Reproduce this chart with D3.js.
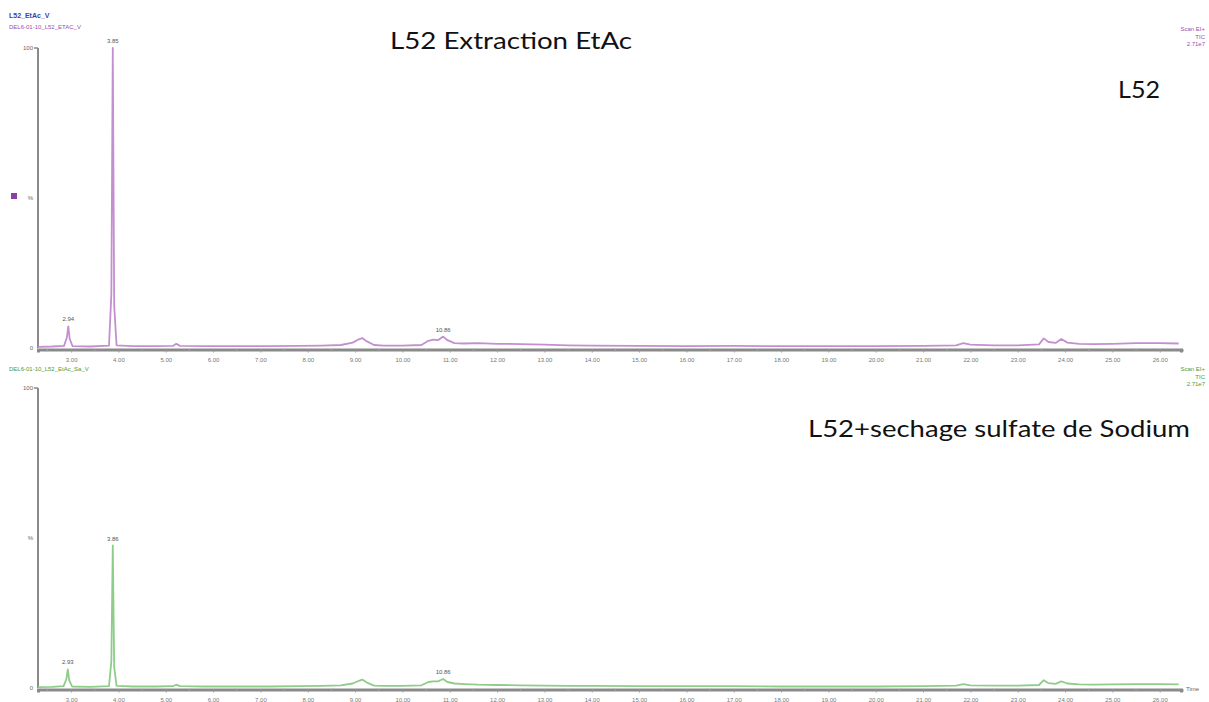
<!DOCTYPE html>
<html><head><meta charset="utf-8">
<script src="https://cdn.jsdelivr.net/npm/d3@7"></script>
<style>body{margin:0;background:#fff}svg{display:block}</style>
</head><body>
<script>
// ---- data ----
const tickMinutes = [3,4,5,6,7,8,9,10,11,12,13,14,15,16,17,18,19,20,21,22,23,24,25,26];
const minorMinutes = [2.5,3.5,4.5,5.5,6.5,7.5,8.5,9.5,10.5,11.5,12.5,13.5,14.5,15.5,16.5,17.5,18.5,19.5,20.5,21.5,22.5,23.5,24.5,25.5,26.5];

const topTimes = [2.30,2.60,2.85,2.91,2.94,2.97,3.03,3.40,3.80,3.85,3.88,3.91,3.96,4.30,4.80,5.15,5.22,5.30,5.80,6.50,7.20,7.80,8.30,8.70,8.95,9.08,9.15,9.25,9.40,9.60,10.00,10.40,10.55,10.65,10.75,10.86,10.95,11.10,11.30,11.60,12.00,12.50,13.00,13.50,14.00,15.00,16.00,17.00,18.00,19.00,20.00,21.00,21.70,21.85,22.00,22.50,23.00,23.45,23.55,23.65,23.80,23.92,24.05,24.30,24.60,25.00,25.50,26.00,26.40];
const topValues = [0.4,0.5,0.7,3.5,7.2,3.0,0.6,0.5,0.8,18,100,14,0.9,0.6,0.6,0.7,1.4,0.7,0.6,0.6,0.6,0.7,0.8,1.0,1.8,2.9,3.3,2.2,1.0,0.8,0.8,1.0,2.4,2.8,2.6,3.8,2.6,1.6,1.5,1.6,1.4,1.3,1.1,0.9,0.8,0.7,0.6,0.7,0.6,0.6,0.6,0.7,0.9,1.6,1.1,0.9,0.9,1.2,3.2,2.0,1.7,3.0,1.8,1.4,1.3,1.4,1.6,1.6,1.5];

const botTimes = [2.30,2.60,2.84,2.90,2.93,2.96,3.02,3.40,3.80,3.85,3.88,3.91,3.96,4.30,4.80,5.15,5.22,5.30,5.80,6.50,7.20,7.80,8.30,8.70,8.95,9.08,9.15,9.25,9.40,9.60,10.00,10.40,10.55,10.65,10.75,10.86,10.95,11.10,11.30,11.60,12.00,12.50,13.00,13.50,14.00,15.00,16.00,17.00,18.00,19.00,20.00,21.00,21.70,21.85,22.00,22.50,23.00,23.45,23.55,23.65,23.80,23.92,24.05,24.30,24.60,25.00,25.50,26.00,26.40];
const botValues = [0.3,0.4,0.6,3.0,6.2,2.6,0.5,0.4,0.6,9,47.5,7,0.7,0.5,0.5,0.6,1.1,0.6,0.5,0.5,0.5,0.6,0.7,0.9,1.5,2.4,2.8,1.8,0.8,0.7,0.7,0.9,2.0,2.2,2.2,3.0,2.0,1.5,1.3,1.1,1.0,0.9,0.8,0.7,0.7,0.6,0.6,0.6,0.5,0.5,0.5,0.6,0.8,1.3,0.9,0.8,0.8,1.0,2.6,1.6,1.4,2.2,1.5,1.2,1.1,1.2,1.3,1.3,1.2];

const peakLabelsTop = [{t:2.94,v:7.2,txt:"2.94"},{t:3.88,v:100,txt:"3.85"},{t:10.86,v:3.8,txt:"10.86"}];
const peakLabelsBot = [{t:2.93,v:6.2,txt:"2.93"},{t:3.88,v:47.5,txt:"3.86"},{t:10.86,v:3.0,txt:"10.86"}];
const yTickLabels = ["100","%","0"];

// ---- drawing ----
const W=1209,H=702;
const svg=d3.select("body").append("svg").attr("width",W).attr("height",H);
const x=d3.scaleLinear().domain([2.3,26.45]).range([38,1181]);
const small='font-family:"Liberation Sans",Arial,sans-serif';

function panel(y0,y1,times,values,color,labels,hdr){
  const y=d3.scaleLinear().domain([0,100]).range([y1,y0]);
  const g=svg.append("g");
  g.append("line").attr("x1",38).attr("x2",38).attr("y1",y(100)).attr("y2",y(0)).attr("stroke","#8a8a8a").attr("stroke-width",2);
  g.append("line").attr("x1",34).attr("x2",38).attr("y1",y(100)).attr("y2",y(100)).attr("stroke","#8a8a8a").attr("stroke-width",1.5);
  [[100,yTickLabels[0]],[50,yTickLabels[1]],[0,yTickLabels[2]]].forEach(([v,t])=>{
    g.append("text").attr("x",33).attr("y",y(v)+2).attr("text-anchor","end").attr("font-size",6).attr("fill","#666").attr("style",small).text(t);
  });
  const line=d3.line().x((d,i)=>x(times[i])).y(d=>y(d));
  g.append("path").datum(values).attr("d",line).attr("fill","none").attr("stroke",color).attr("stroke-width",1.8).attr("stroke-linejoin","round");
  const ax=d3.axisBottom(x).tickValues(tickMinutes).tickFormat(d=>d.toFixed(2)).tickSize(3).tickPadding(5);
  const axg=g.append("g").attr("transform",`translate(0,${y1+1.5})`).call(ax);
  axg.select(".domain").attr("stroke","#8a8a8a").attr("stroke-width",3);
  axg.selectAll(".tick line").attr("stroke","#999");
  axg.selectAll("text").attr("font-size",6).attr("fill","#777").attr("style",small);
  g.selectAll(".minor").data(minorMinutes).enter().append("line").attr("x1",d=>x(d)).attr("x2",d=>x(d)).attr("y1",y1+1.5).attr("y2",y1+3.5).attr("stroke","#aaa");
  labels.forEach(p=>{
    g.append("text").attr("x",x(p.t)).attr("y",y(p.v)-5).attr("text-anchor","middle").attr("font-size",6).attr("fill","#555").attr("style",small).text(p.txt);
  });
  hdr.left.forEach(h=>g.append("text").attr("x",9).attr("y",h.y).attr("font-size",h.s).attr("font-weight",h.b?"bold":"normal").attr("fill",h.c).attr("style",small).text(h.t));
  hdr.right.forEach((t,i)=>g.append("text").attr("x",1205).attr("y",hdr.ry+i*7.5).attr("text-anchor","end").attr("font-size",6).attr("fill",hdr.rc).attr("style",small).text(t));
  return g;
}

panel(48,348,topTimes,topValues,"#c48fd0",peakLabelsTop,{
  left:[{t:"L52_EtAc_V",y:18,s:7,b:true,c:"#3b3fa8"},{t:"DEL6-01-10_L52_ETAC_V",y:29,s:6,c:"#9a4fb0"}],
  right:["Scan EI+","TIC","2.71e7"],ry:31,rc:"#9a4fb0"});
svg.append("rect").attr("x",11).attr("y",193).attr("width",6).attr("height",6).attr("fill","#8b3fa8");

panel(388,688,botTimes,botValues,"#8fcc8a",peakLabelsBot,{
  left:[{t:"DEL6-01-10_L52_EtAc_Sa_V",y:371,s:6,c:"#4c9a3c"}],
  right:["Scan EI+","TIC","2.71e7"],ry:371,rc:"#4c9a3c"});
svg.append("text").attr("x",1186).attr("y",691).attr("font-size",6).attr("fill","#666").attr("style",small).text("Time");

const big='font-family:Lato,"Open Sans",sans-serif';
function title(t,x0,yb,len){
  svg.append("text").attr("x",x0).attr("y",yb).attr("font-size",24).attr("fill","#111").attr("style",big)
    .attr("textLength",len).attr("lengthAdjust","spacingAndGlyphs").text(t);
}
title("L52 Extraction EtAc",390,49,242);
title("L52",1118,98,42);
title("L52+sechage sulfate de Sodium",808,437,382);
</script>
</body></html>
